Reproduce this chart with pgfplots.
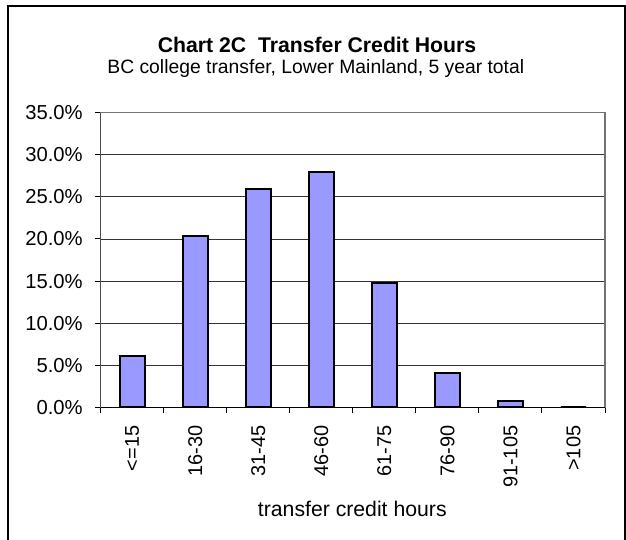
\documentclass[border=0pt]{standalone}
\usepackage{pgfplots}
\pgfplotsset{compat=1.18}
\usepackage{fontspec}
\setmainfont{Liberation Sans}
\definecolor{barfill}{HTML}{9999FF}
\begin{document}
\begin{tikzpicture}
\useasboundingbox (-100.7bp,-132.7bp) rectangle (525.3bp,407.3bp);
% outer frame
\draw[black, line width=1.5bp] (-92.7bp,-140bp) -- (-92.7bp,401.3bp) -- (524.3bp,401.3bp) -- (524.3bp,-140bp);
\begin{axis}[
  at={(0,0)}, anchor=south west,
  scale only axis,
  width=504.3bp, height=294.6bp,
  xmin=-0.5, xmax=7.5,
  ymin=0, ymax=35,
  ytick={0,5,...,35},
  yticklabels={0.0\%,5.0\%,10.0\%,15.0\%,20.0\%,25.0\%,30.0\%,35.0\%},
  xtick={-0.5,0.5,...,7.5},
  xticklabels={},
  extra x ticks={0,1,2,3,4,5,6,7},
  extra x tick labels={{<=15},{16-30},{31-45},{46-60},{61-75},{76-90},{91-105},{>105}},
  extra x tick style={major tick length=0pt, grid=none,
     tick label style={rotate=90, anchor=east, font=\fontsize{20}{24}\selectfont, xshift=-15bp}},
  xtick pos=bottom, ytick pos=left,
  tick align=outside,
  major tick length=5.5bp,
  tick style={black, line width=1bp},
  ymajorgrids,
  grid style={black!80, line width=0.9bp},
  axis line style={gray!90!black, line width=1.6bp},
  yticklabel style={font=\fontsize{20.3}{24}\selectfont, xshift=-9bp},
]
\addplot[ybar, bar width=25.2bp, fill=barfill, draw=black, line width=2bp]
  coordinates {(0,6.1) (1,20.3) (2,25.9) (3,28.0) (4,14.8) (5,4.1) (6,0.8) (7,0)};
\draw[black, line width=1.2bp] (rel axis cs:0,1) -- (rel axis cs:0,0) -- (rel axis cs:1,0);
\end{axis}
\node[anchor=base, font=\fontsize{21.3}{25}\selectfont\bfseries] at (216.3bp,354.6bp) {Chart 2C\ \ Transfer Credit Hours};
\node[anchor=base, font=\fontsize{19.4}{23}\selectfont] at (215.1bp,333.3bp) {BC college transfer, Lower Mainland, 5 year total};
\node[anchor=base, font=\fontsize{21.3}{25}\selectfont] at (251.6bp,-109.4bp) {transfer credit hours};
\end{tikzpicture}
\end{document}
